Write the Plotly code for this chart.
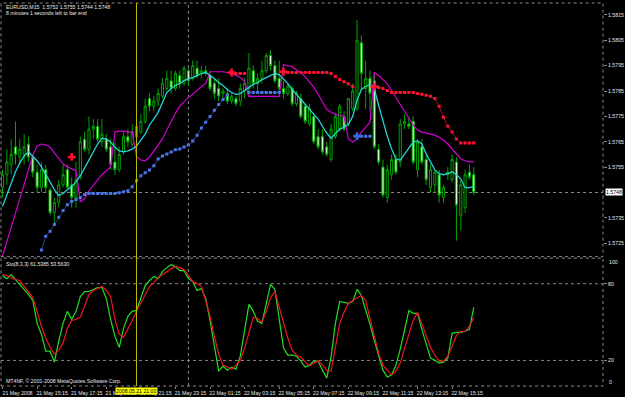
import plotly.graph_objects as go
import pandas as pd

# ---------------- data ----------------
times = pd.date_range("2008-05-21 13:15", periods=110, freq="15min")
idx = list(range(len(times)))

open_ = [1.5747, 1.5752, 1.5756, 1.5763, 1.5759, 1.5760, 1.5764, 1.5759, 1.5753, 1.5747,
         1.5754, 1.5746, 1.5737, 1.5741, 1.5748, 1.5754, 1.5748, 1.5743, 1.5751, 1.5766,
         1.5762, 1.5770, 1.5771, 1.5765, 1.5766, 1.5763, 1.5757, 1.5754, 1.5761, 1.5767,
         1.5764, 1.5767, 1.5769, 1.5773, 1.5782, 1.5779, 1.5781, 1.5783, 1.5786, 1.5789,
         1.5786, 1.5791, 1.5788, 1.5793, 1.5790, 1.5794, 1.5792, 1.5793, 1.5791, 1.5788,
         1.5786, 1.5784, 1.5784, 1.5781, 1.5782, 1.5781, 1.5785, 1.5786, 1.5793, 1.5788,
         1.5790, 1.5793, 1.5799, 1.5795, 1.5790, 1.5786, 1.5784, 1.5786, 1.5780, 1.5782,
         1.5779, 1.5772, 1.5775, 1.5767, 1.5767, 1.5763, 1.5758, 1.5767, 1.5770, 1.5775,
         1.5772, 1.5778, 1.5778, 1.5804, 1.5786, 1.5790, 1.5789, 1.5762, 1.5755, 1.5743,
         1.5752, 1.5758, 1.5757, 1.5772, 1.5772, 1.5773, 1.5754, 1.5763, 1.5758, 1.5747,
         1.5748, 1.5752, 1.5743, 1.5753, 1.5750, 1.5757, 1.5736, 1.5739, 1.5753, 1.5752]
high = [1.5754, 1.5762, 1.5766, 1.5773, 1.5766, 1.5768, 1.5767, 1.5760, 1.5756, 1.5757,
        1.5756, 1.5747, 1.5743, 1.5750, 1.5756, 1.5756, 1.5751, 1.5757, 1.5767, 1.5769,
        1.5775, 1.5774, 1.5774, 1.5774, 1.5768, 1.5766, 1.5765, 1.5763, 1.5769, 1.5770,
        1.5772, 1.5773, 1.5776, 1.5782, 1.5784, 1.5783, 1.5786, 1.5790, 1.5793, 1.5793,
        1.5793, 1.5793, 1.5795, 1.5794, 1.5797, 1.5797, 1.5795, 1.5795, 1.5793, 1.5790,
        1.5790, 1.5786, 1.5786, 1.5784, 1.5783, 1.5788, 1.5790, 1.5800, 1.5795, 1.5792,
        1.5797, 1.5800, 1.5801, 1.5797, 1.5797, 1.5789, 1.5788, 1.5787, 1.5785, 1.5784,
        1.5780, 1.5780, 1.5776, 1.5770, 1.5770, 1.5765, 1.5772, 1.5776, 1.5780, 1.5777,
        1.5782, 1.5788, 1.5813, 1.5807, 1.5797, 1.5793, 1.5792, 1.5764, 1.5758, 1.5756,
        1.5760, 1.5760, 1.5774, 1.5776, 1.5775, 1.5775, 1.5766, 1.5766, 1.5760, 1.5756,
        1.5754, 1.5754, 1.5748, 1.5755, 1.5760, 1.5759, 1.5750, 1.5754, 1.5756, 1.5755]
low = [1.5743, 1.5748, 1.5752, 1.5756, 1.5756, 1.5756, 1.5757, 1.5751, 1.5745, 1.5745,
       1.5745, 1.5736, 1.5733, 1.5739, 1.5747, 1.5747, 1.5739, 1.5739, 1.5750, 1.5761,
       1.5760, 1.5766, 1.5765, 1.5763, 1.5761, 1.5754, 1.5752, 1.5753, 1.5760, 1.5763,
       1.5763, 1.5764, 1.5768, 1.5772, 1.5777, 1.5777, 1.5779, 1.5782, 1.5785, 1.5784,
       1.5785, 1.5786, 1.5787, 1.5787, 1.5789, 1.5790, 1.5790, 1.5791, 1.5785, 1.5782,
       1.5781, 1.5781, 1.5780, 1.5780, 1.5779, 1.5779, 1.5782, 1.5784, 1.5786, 1.5785,
       1.5788, 1.5792, 1.5793, 1.5788, 1.5785, 1.5782, 1.5783, 1.5779, 1.5779, 1.5774,
       1.5772, 1.5771, 1.5764, 1.5762, 1.5760, 1.5759, 1.5757, 1.5766, 1.5769, 1.5769,
       1.5771, 1.5777, 1.5777, 1.5786, 1.5778, 1.5777, 1.5762, 1.5756, 1.5743, 1.5741,
       1.5750, 1.5752, 1.5755, 1.5770, 1.5770, 1.5756, 1.5751, 1.5756, 1.5748, 1.5745,
       1.5745, 1.5741, 1.5741, 1.5750, 1.5749, 1.5726, 1.5730, 1.5737, 1.5750, 1.5744]
close = [1.5752, 1.5757, 1.5760, 1.5760, 1.5762, 1.5763, 1.5759, 1.5753, 1.5747, 1.5754,
         1.5747, 1.5737, 1.5741, 1.5748, 1.5752, 1.5747, 1.5743, 1.5750, 1.5765, 1.5762,
         1.5770, 1.5771, 1.5766, 1.5768, 1.5762, 1.5756, 1.5754, 1.5760, 1.5767, 1.5765,
         1.5769, 1.5771, 1.5773, 1.5779, 1.5779, 1.5781, 1.5784, 1.5788, 1.5790, 1.5786,
         1.5792, 1.5788, 1.5794, 1.5789, 1.5795, 1.5791, 1.5793, 1.5792, 1.5786, 1.5784,
         1.5783, 1.5785, 1.5781, 1.5783, 1.5780, 1.5786, 1.5788, 1.5794, 1.5788, 1.5790,
         1.5793, 1.5799, 1.5795, 1.5789, 1.5786, 1.5784, 1.5787, 1.5780, 1.5784, 1.5775,
         1.5773, 1.5778, 1.5765, 1.5763, 1.5761, 1.5760, 1.5770, 1.5775, 1.5779, 1.5770,
         1.5782, 1.5785, 1.5805, 1.5792, 1.5790, 1.5784, 1.5763, 1.5757, 1.5744, 1.5754,
         1.5758, 1.5753, 1.5772, 1.5773, 1.5771, 1.5757, 1.5765, 1.5757, 1.5750, 1.5754,
         1.5753, 1.5744, 1.5747, 1.5752, 1.5758, 1.5740, 1.5748, 1.5752, 1.5751, 1.5745]

ma_cyan = [1.57395, 1.57442, 1.57489, 1.57532, 1.57567, 1.57594, 1.57610, 1.57594, 1.57575, 1.57551,
           1.57520, 1.57489, 1.57461, 1.57438, 1.57446, 1.57461, 1.57473, 1.57492, 1.57516, 1.57547,
           1.57578, 1.57614, 1.57641, 1.57664, 1.57661, 1.57649, 1.57629, 1.57614, 1.57610, 1.57614,
           1.57621, 1.57633, 1.57657, 1.57680, 1.57715, 1.57739, 1.57766, 1.57805, 1.57844, 1.57860,
           1.57872, 1.57879, 1.57891, 1.57899, 1.57903, 1.57911, 1.57919, 1.57923, 1.57911, 1.57899,
           1.57883, 1.57872, 1.57856, 1.57844, 1.57837, 1.57840, 1.57852, 1.57864, 1.57876, 1.57883,
           1.57895, 1.57903, 1.57911, 1.57919, 1.57915, 1.57899, 1.57879, 1.57856, 1.57837, 1.57817,
           1.57797, 1.57778, 1.57762, 1.57739, 1.57711, 1.57684, 1.57664, 1.57684, 1.57700, 1.57707,
           1.57719, 1.57750, 1.57813, 1.57856, 1.57868, 1.57876, 1.57860, 1.57793, 1.57731, 1.57672,
           1.57621, 1.57582, 1.57578, 1.57602, 1.57629, 1.57649, 1.57653, 1.57641, 1.57602, 1.57571,
           1.57539, 1.57524, 1.57520, 1.57524, 1.57532, 1.57520, 1.57504, 1.57469, 1.57469, 1.57473]

band_magenta = [1.57199, 1.57258, 1.57317, 1.57371, 1.57426, 1.57481, 1.57539, 1.57598, 1.57633, 1.57641,
                1.57637, 1.57629, 1.57606, 1.57582, 1.57563, 1.57551, 1.57543, 1.57535, 1.57414, 1.57426,
                1.57457, 1.57481, 1.57500, 1.57520, 1.57535, 1.57551, 1.57688, 1.57692, 1.57692, 1.57688,
                1.57688, 1.57590, 1.57578, 1.57575, 1.57590, 1.57614, 1.57637, 1.57661, 1.57696, 1.57731,
                1.57762, 1.57790, 1.57809, 1.57825, 1.57837, 1.57852, 1.57868, 1.57879, 1.57926, 1.57926,
                1.57926, 1.57926, 1.57923, 1.57919, 1.57911, 1.57903, 1.57887, 1.57829, 1.57829, 1.57829,
                1.57829, 1.57829, 1.57829, 1.57829, 1.57829, 1.57954, 1.57950, 1.57946, 1.57934, 1.57923,
                1.57907, 1.57887, 1.57864, 1.57837, 1.57805, 1.57778, 1.57766, 1.57758, 1.57754, 1.57750,
                1.57661, 1.57649, 1.57661, 1.57688, 1.57707, 1.57727, 1.57923, 1.57911, 1.57895, 1.57879,
                1.57852, 1.57825, 1.57797, 1.57766, 1.57739, 1.57715, 1.57696, 1.57688, 1.57684, 1.57680,
                1.57676, 1.57668, 1.57657, 1.57641, 1.57621, 1.57602, 1.57582, 1.57575, 1.57571, 1.57571]

N = None
sar_blue = [N, N, N, N, N, N, N, N, N, 1.57223,
            1.57277, 1.57297, 1.57324, 1.57352, 1.57379, 1.57402, 1.57414, 1.57422, 1.57430, 1.57442,
            1.57446, 1.57446, 1.57446, 1.57446, 1.57446, 1.57446, 1.57446, 1.57449, 1.57453, 1.57457,
            1.57473, 1.57496, 1.57516, 1.57528, 1.57539, 1.57555, 1.57582, 1.57594, 1.57602, 1.57610,
            1.57618, 1.57621, 1.57629, 1.57637, 1.57653, 1.57676, 1.57704, 1.57727, 1.57750, 1.57774,
            1.57797, 1.57817, 1.57833, N, N, N, N, 1.57844, 1.57844, 1.57844,
            1.57844, 1.57844, 1.57844, 1.57844, 1.57844, N, N, N, N, N,
            N, N, N, N, N, N, N, N, N, N,
            N, N, 1.57672, 1.57672, 1.57672, 1.57672, N, N, N, N,
            N, N, N, N, N, N, N, N, N, N,
            N, N, N, N, N, N, N, N, N, N]
sar_red = [N, N, N, N, N, N, N, N, N, N,
           N, N, N, N, N, N, N, N, N, N,
           N, N, N, N, N, N, N, N, N, N,
           N, N, N, N, N, N, N, N, N, N,
           N, N, N, N, N, N, N, N, N, N,
           N, N, N, 1.57923, 1.57919, 1.57919, 1.57919, N, N, N,
           N, N, N, N, N, 1.57926, 1.57923, 1.57923, 1.57923, 1.57923,
           1.57923, 1.57923, 1.57923, 1.57923, 1.57923, 1.57923, 1.57919, 1.57907, 1.57895, 1.57887,
           1.57879, 1.57868, N, N, N, N, 1.57868, 1.57864, 1.57860, 1.57852,
           1.57844, 1.57844, 1.57844, 1.57844, 1.57844, 1.57844, 1.57840, 1.57837, 1.57833, 1.57829,
           1.57821, 1.57790, 1.57747, 1.57711, 1.57688, 1.57661, 1.57645, 1.57645, 1.57645, 1.57645]

red_arrow_bars = [16, 53, 65, 86]
red_arrow_vals = [1.57590, 1.57923, 1.57926, 1.57868]
blue_arrow_bars = [82]
blue_arrow_vals = [1.57672]

sto_main = [86.4, 84.0, 87.1, 83.3, 79.4, 75.5, 71.6, 66.9, 49.0, 40.5,
            27.2, 27.2, 18.7, 35.0, 49.0, 58.4, 52.1, 58.4, 70.0, 73.9,
            73.9, 75.5, 77.0, 77.0, 68.5, 52.1, 38.9, 30.3, 45.1, 54.5,
            58.4, 59.1, 69.2, 78.6, 82.5, 85.6, 84.0, 89.5, 92.6, 94.9,
            93.4, 90.2, 90.2, 84.0, 81.7, 74.7, 76.2, 68.5, 51.3, 29.6,
            11.7, 15.6, 12.4, 14.8, 13.2, 23.3, 45.1, 63.8, 58.4, 50.6,
            49.0, 65.4, 79.4, 75.5, 53.7, 29.6, 24.1, 24.1, 23.3, 19.5,
            14.8, 16.3, 19.5, 19.5, 12.4, 6.2, 22.6, 49.0, 66.1, 65.4,
            64.6, 66.1, 75.5, 70.8, 59.9, 48.2, 35.8, 23.3, 12.4, 7.0,
            8.6, 16.3, 28.8, 43.6, 59.1, 56.8, 56.8, 44.3, 33.5, 21.8,
            20.2, 17.9, 18.7, 21.8, 41.2, 42.0, 42.0, 42.8, 44.3, 61.5]
sto_signal = [87.1, 86.4, 84.8, 83.3, 82.5, 77.8, 73.9, 69.2, 58.4, 46.7,
              37.3, 30.3, 24.9, 28.0, 33.5, 45.1, 51.3, 52.1, 53.7, 63.0,
              71.6, 74.7, 76.2, 77.8, 74.7, 70.0, 52.1, 40.5, 38.1, 44.3,
              51.3, 58.4, 64.6, 70.8, 77.8, 80.9, 84.8, 87.1, 89.5, 91.8,
              93.4, 92.6, 91.0, 86.4, 81.7, 80.1, 77.8, 66.9, 54.5, 38.9,
              24.9, 16.3, 14.8, 13.2, 16.3, 20.2, 29.6, 42.8, 53.7, 52.9,
              49.8, 58.4, 69.2, 73.9, 62.2, 49.8, 37.3, 28.0, 24.1, 22.6,
              18.7, 15.6, 17.9, 19.5, 16.3, 12.4, 11.7, 31.9, 49.0, 57.6,
              64.6, 66.9, 69.2, 70.8, 66.9, 52.1, 38.9, 25.7, 16.3, 12.4,
              8.6, 11.7, 17.9, 29.6, 39.7, 51.3, 57.6, 49.0, 39.7, 30.3,
              24.1, 19.5, 19.5, 23.3, 31.1, 39.7, 42.8, 42.8, 46.7, 53.6]

price_ticks = [1.5815, 1.5805, 1.5795, 1.5785, 1.5775, 1.5765, 1.5755, 1.5735, 1.5725]
price_tick_text = ["1.5815", "1.5805", "1.5795", "1.5785", "1.5775", "1.5765", "1.5755", "1.5735", "1.5725"]
bid_text = "1.5748"
sto_levels = [20, 80]

time_tick_times = ["2008-05-21 13:15", "2008-05-21 15:15", "2008-05-21 17:15", "2008-05-21 19:15",
                   "2008-05-21 21:15", "2008-05-21 23:15", "2008-05-22 01:15", "2008-05-22 03:15",
                   "2008-05-22 05:15", "2008-05-22 07:15", "2008-05-22 09:15", "2008-05-22 11:15",
                   "2008-05-22 13:15", "2008-05-22 15:15"]
time_tick_text = ["21 May 2008", "21 May 15:15", "21 May 17:15", "21 May 19:15", "21 May 21:15",
                  "21 May 23:15", "22 May 01:15", "22 May 03:15", "22 May 05:15", "22 May 07:15",
                  "22 May 09:15", "22 May 11:15", "22 May 13:15", "22 May 15:15"]
vline_time = "2008-05-21 21:00"
vline_label = "2008.05.21 21:00"
separator_time = "2008-05-22 00:00"

title_line1 = "EURUSD,M15  1.5752 1.5755 1.5744 1.5748"
title_line2 = "8 minutes 1 seconds left to bar end"
sto_title = "Sto(8,3,3) 61.5385 53.5630"
copyright_text = "MT4NF, \u00a9 2001-2008 MetaQuotes Software Corp."

# --------------- helpers -------------
tpos = {t: i for i, t in enumerate(times)}
def pos(t):
    return tpos[pd.Timestamp(t)]

tick_vals = [pos(t) for t in time_tick_times]

FONT = "Liberation Sans, Arial, sans-serif"
TXT = "#e8e8e8"
GRID = "#8a8a8a"
FS = 5.2

fig = go.Figure()

fig.add_trace(go.Candlestick(
    x=idx, open=open_, high=high, low=low, close=close,
    increasing=dict(line=dict(color="#00a000", width=1), fillcolor="#000000"),
    decreasing=dict(line=dict(color="#00a800", width=1), fillcolor="#d6ffc6"),
    whiskerwidth=0, hoverinfo="skip", showlegend=False, xaxis="x", yaxis="y"))

fig.add_trace(go.Scatter(x=idx, y=band_magenta, mode="lines",
                         line=dict(color="#d000d0", width=1.2), hoverinfo="skip",
                         showlegend=False, yaxis="y"))
fig.add_trace(go.Scatter(x=idx, y=ma_cyan, mode="lines",
                         line=dict(color="#22d6d6", width=1.3), hoverinfo="skip",
                         showlegend=False, yaxis="y"))
fig.add_trace(go.Scatter(x=idx, y=sar_blue, mode="lines+markers", connectgaps=False,
                         line=dict(color="#27408b", width=1),
                         marker=dict(symbol="square", size=3, color="#4a74e8"),
                         hoverinfo="skip", showlegend=False, yaxis="y"))
fig.add_trace(go.Scatter(x=idx, y=sar_red, mode="lines+markers", connectgaps=False,
                         line=dict(color="#a0102a", width=1),
                         marker=dict(symbol="square", size=3, color="#ff1030"),
                         hoverinfo="skip", showlegend=False, yaxis="y"))
fig.add_trace(go.Scatter(x=red_arrow_bars, y=red_arrow_vals, mode="markers",
                         marker=dict(symbol="cross", size=6.5, color="#ff1030"),
                         hoverinfo="skip", showlegend=False, yaxis="y"))
fig.add_trace(go.Scatter(x=blue_arrow_bars, y=blue_arrow_vals, mode="markers",
                         marker=dict(symbol="cross", size=6.5, color="#3a64e0"),
                         hoverinfo="skip", showlegend=False, yaxis="y"))

fig.add_trace(go.Scatter(x=idx, y=sto_main, mode="lines",
                         line=dict(color="#1ee01e", width=1.2), hoverinfo="skip",
                         showlegend=False, yaxis="y2"))
fig.add_trace(go.Scatter(x=idx, y=sto_signal, mode="lines",
                         line=dict(color="#f01428", width=1.2), hoverinfo="skip",
                         showlegend=False, yaxis="y2"))

dot = dict(color=GRID, width=1, dash="dot")
shapes = [
    dict(type="rect", xref="paper", yref="y domain", x0=0, x1=1, y0=0, y1=1, line=dot, layer="above"),
    dict(type="rect", xref="paper", yref="y2 domain", x0=0, x1=1, y0=0, y1=1, line=dot, layer="above"),
    dict(type="line", xref="x", yref="paper", x0=pos(separator_time), x1=pos(separator_time),
         y0=0, y1=1, line=dot, layer="below"),
    dict(type="line", xref="x", yref="paper", x0=pos(vline_time), x1=pos(vline_time),
         y0=0, y1=1, line=dict(color="#c0bc00", width=1), layer="above"),
    dict(type="line", xref="paper", yref="y", x0=0, x1=1, y0=close[-1], y1=close[-1],
         line=dot, layer="below"),
]
for lv in sto_levels:
    shapes.append(dict(type="line", xref="paper", yref="y2", x0=0, x1=1, y0=lv, y1=lv,
                       line=dot, layer="below"))

f = dict(family=FONT, size=FS, color=TXT)
annotations = [
    dict(text=title_line1, xref="paper", yref="paper", x=0.005, y=0.99, xanchor="left",
         yanchor="middle", showarrow=False, font=f),
    dict(text=title_line2, xref="paper", yref="paper", x=0.005, y=0.974, xanchor="left",
         yanchor="middle", showarrow=False, font=f),
    dict(text=sto_title, xref="paper", yref="paper", x=0.005, y=0.318, xanchor="left",
         yanchor="middle", showarrow=False, font=f),
    dict(text=copyright_text, xref="paper", yref="paper", x=0.005, y=0.014, xanchor="left",
         yanchor="middle", showarrow=False, font=f),
    dict(text=bid_text, xref="paper", yref="y", x=1, y=close[-1], xanchor="left",
         yanchor="middle", xshift=2, showarrow=False, bgcolor="#ffffff",
         font=dict(family=FONT, size=FS, color="#000000"), borderpad=0),
    dict(text="100", xref="paper", yref="y2", x=1, y=100, xanchor="left", yanchor="middle",
         xshift=4, yshift=-4, showarrow=False, font=f),
    dict(text="0", xref="paper", yref="y2", x=1, y=0, xanchor="left", yanchor="middle",
         xshift=4, yshift=4, showarrow=False, font=f),
    dict(text=vline_label, xref="x", yref="paper", x=pos(vline_time), y=0, xanchor="center",
         yanchor="top", yshift=-1, showarrow=False, bgcolor="#ffff00", borderpad=0,
         font=dict(family=FONT, size=FS, color="#000000")),
]

fig.update_layout(
    width=625, height=397,
    margin=dict(l=1, r=21, t=3, b=9),
    paper_bgcolor="#000000", plot_bgcolor="#000000",
    showlegend=False,
    shapes=shapes, annotations=annotations,
    xaxis=dict(domain=[0, 1], range=[-0.35, 138.9], anchor="y2",
               rangeslider=dict(visible=False), showgrid=False, zeroline=False,
               showline=False, tickvals=tick_vals, ticktext=time_tick_text,
               ticks="outside", ticklen=2, tickcolor=GRID,
               tickfont=dict(family=FONT, size=FS, color=TXT),
               ticklabelshift=15, ticklabelstandoff=0),
    yaxis=dict(domain=[0.3377, 1], range=[1.57197, 1.58197], side="right", anchor="x",
               showgrid=False, zeroline=False, showline=False,
               tickvals=price_ticks, ticktext=price_tick_text,
               ticks="outside", ticklen=3, tickcolor=GRID,
               tickfont=dict(family=FONT, size=FS, color=TXT)),
    yaxis2=dict(domain=[0, 0.3338], range=[0, 100], side="right", anchor="x",
                showgrid=False, zeroline=False, showline=False,
                tickvals=sto_levels, ticktext=[str(v) for v in sto_levels],
                ticks="outside", ticklen=3, tickcolor=GRID,
                tickfont=dict(family=FONT, size=FS, color=TXT)),
)

fig.write_html("out.html")
